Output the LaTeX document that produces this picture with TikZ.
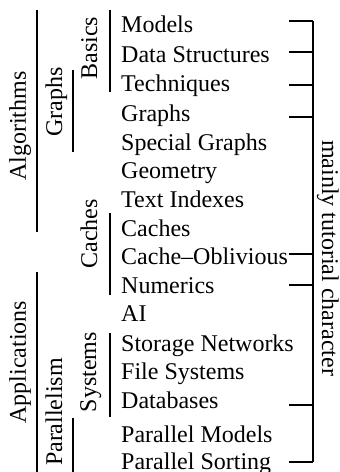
\documentclass[tikz,border=0pt]{standalone}
\usepackage{fontspec}
\setmainfont{Liberation Serif}
\begin{document}
\begin{tikzpicture}[x=1pt,y=-1pt,
  item/.style={anchor=base west,inner sep=0pt,font=\fontsize{24}{29}\selectfont},
  grp/.style={rotate=90,anchor=base,inner sep=0pt,font=\fontsize{24}{29}\selectfont},
  side/.style={rotate=-90,anchor=base,inner sep=0pt,font=\fontsize{24}{29}\selectfont},
  bar/.style={line width=1.5pt},
  brk/.style={line width=1.1pt}]
\useasboundingbox (0,0) rectangle (340,472);
% items
\node[item] (models) at (121,32) {Models};
\node[item] (ds) at (121,62) {Data Structures};
\node[item] (tech) at (121,91) {Techniques};
\node[item] (graphs) at (121,121) {Graphs};
\node[item] (sg) at (121,150) {Special Graphs};
\node[item] (geo) at (121,178) {Geometry};
\node[item] (ti) at (121,207) {Text Indexes};
\node[item] (caches) at (121,236) {Caches};
\node[item] (co) at (121,264) {Cache\textendash Oblivious};
\node[item] (num) at (121,293) {Numerics};
\node[item] (ai) at (121,321) {AI};
\node[item] (sn) at (121,351) {Storage Networks};
\node[item] (fs) at (121,379) {File Systems};
\node[item] (db) at (121,408) {Databases};
\node[item] (pm) at (121,442) {Parallel Models};
\node[item] (ps) at (121,469) {Parallel Sorting};
% group labels
\node[grp] (lalg) at (26,126) {Algorithms};
\node[grp] (lapp) at (26,362) {Applications};
\node[grp] (lgra) at (62,102) {Graphs};
\node[grp] (lpar) at (62,412) {Parallelism};
\node[grp] (lbas) at (97,48) {Basics};
\node[grp] (lcac) at (97,234) {Caches};
\node[grp] (lsys) at (96,372) {Systems};
% group bars
\draw[bar] (37,10) -- (37,232);
\draw[bar] (37,272) -- (37,472);
\draw[bar] (73,70) -- (73,152);
\draw[bar] (73,418) -- (73,472);
\draw[bar] (110,10) -- (110,92);
\draw[bar] (110,213) -- (110,295);
\draw[bar] (110,333) -- (110,417);
% right bracket
\coordinate (rt) at (313,21);
\coordinate (rb) at (313,462);
\draw[brk] (rt) -- (rb);
\foreach \yy in {21,52,85,117,254,285,405,462}
  \draw[brk] (289,\yy) -- (313,\yy);
\node[side] (tut) at (322,258) {mainly tutorial character};
\end{tikzpicture}
\end{document}
